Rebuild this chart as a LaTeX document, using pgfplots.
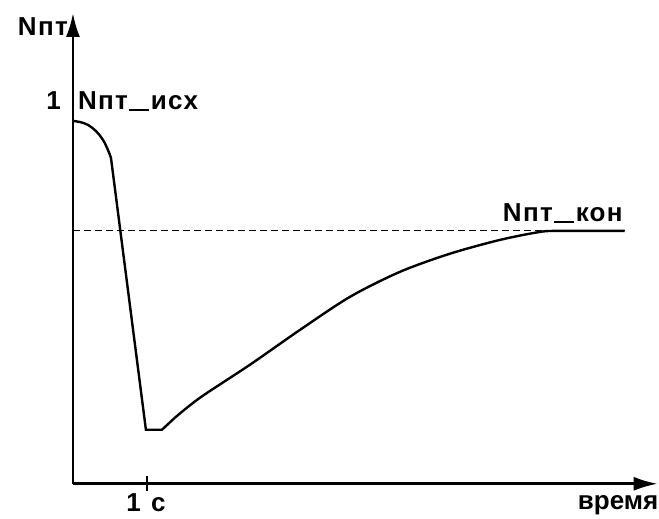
\documentclass[border=0pt]{standalone}
\usepackage{pgfplots}
\pgfplotsset{compat=1.18}
\usepackage{fontspec}
\setmainfont{Liberation Sans}
\newfontfamily\spaced{Liberation Sans}[LetterSpace=5]
\usetikzlibrary{arrows.meta}
% long underscore sitting on the baseline
\newcommand{\us}{\kern1.5pt\rule[-1pt]{20pt}{2.2pt}\kern1.5pt}

\begin{document}
\begin{tikzpicture}[x=1pt,y=1pt,
  lbl/.style={inner sep=0, font=\fontsize{26}{31}\selectfont\bfseries},
  nlbl/.style={inner sep=0, font=\fontsize{26}{31}\spaced\bfseries}]
% fixed page frame
\path (-73,-35) rectangle (586,484);
\begin{axis}[
  at={(0,0)}, anchor=origin,
  scale only axis, width=585pt, height=471pt,
  xmin=0, xmax=7.905, ymin=0, ymax=1.2975,
  axis x line=bottom, axis y line=left,
  axis line style={line width=2.6pt, -{Latex[length=24pt,width=14pt]}},
  xtick={1}, xticklabels={}, ytick=\empty,
  major tick length=15pt, tick align=center,
  tick style={line width=1.4pt, black},
  clip=false,
]
% initial state, rounded top
\addplot[black, line width=2.4pt, smooth, tension=0.6] coordinates {
  (0,1) (0.095,0.997) (0.203,0.989) (0.311,0.972) (0.405,0.948) (0.473,0.920) (0.514,0.898)
};
% sharp drop and short plateau
\addplot[black, line width=2.4pt] coordinates {
  (0.514,0.898) (0.986,0.149) (1.203,0.149) (1.378,0.182)
};
% recovery towards the final value
\addplot[black, line width=2.4pt, smooth] coordinates {
  (1.378,0.182) (1.716,0.237) (2.392,0.328) (3.068,0.424) (3.743,0.515)
  (4.419,0.584) (5.095,0.634) (5.770,0.672) (6.311,0.694) (6.581,0.697) (7.459,0.697)
};
% final level
\addplot[black, line width=1.1pt, dash pattern=on 7pt off 4pt] coordinates {
  (0,0.697) (7.459,0.697)
};
\end{axis}
\node[nlbl, anchor=base east] at (-5,448) {Nпт};
\node[lbl, anchor=base east] at (-12,374) {1};
\node[nlbl, anchor=base west] at (5,374) {Nпт\us исх};
\node[nlbl, anchor=base west] at (430,262) {Nпт\us кон};
\node[lbl, anchor=base east] at (68,-28) {1};
\node[lbl, anchor=base west] at (78,-28) {c};
\node[lbl, anchor=base west] at (505,-26) {время};
\end{tikzpicture}
\end{document}
